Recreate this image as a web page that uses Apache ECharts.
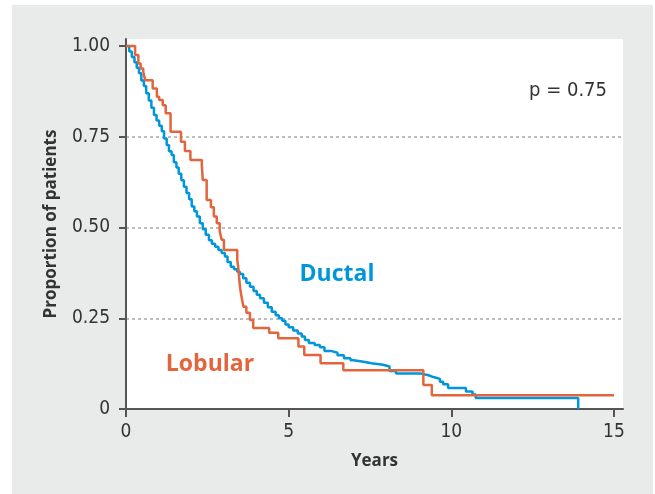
<!DOCTYPE html>
<html>
<head>
<meta charset="utf-8">
<script src="https://cdn.jsdelivr.net/npm/echarts@6/dist/echarts.min.js"></script>
<style>
  html, body { margin: 0; padding: 0; background: #fff; }
  #chart { width: 655px; height: 494px; }
</style>
</head>
<body>
<div id="chart"></div>
<script>
// Kaplan-Meier estimates (years, proportion)
const ductalTimes = [0, 0.10, 0.18, 0.26, 0.33, 0.40, 0.47, 0.55, 0.62, 0.70, 0.78, 0.86, 0.94, 1.02, 1.10,
  1.17, 1.25, 1.32, 1.40, 1.47, 1.55, 1.62, 1.70, 1.78, 1.86, 1.94, 2.02, 2.10, 2.18, 2.27, 2.36, 2.45,
  2.55, 2.64, 2.74, 2.84, 2.94, 3.04, 3.12, 3.22, 3.32, 3.42, 3.50, 3.60, 3.70, 3.81, 3.92, 4.02, 4.12,
  4.24, 4.36, 4.48, 4.60, 4.70, 4.80, 4.90, 5.00, 5.14, 5.28, 5.40, 5.50, 5.62, 5.80, 5.96, 6.10, 6.30,
  6.50, 6.70, 6.90, 7.00, 7.30, 7.55, 7.90, 8.10, 8.30, 9.05, 9.30, 9.45, 9.65, 9.75, 9.90, 10.45, 10.65,
  10.75, 13.90]
const ductalSurv = [1.0, 0.985, 0.97, 0.955, 0.94, 0.925, 0.905, 0.89, 0.87, 0.85, 0.83, 0.81, 0.795, 0.78, 0.765,
  0.745, 0.727, 0.71, 0.70, 0.68, 0.665, 0.648, 0.63, 0.612, 0.595, 0.578, 0.558, 0.545, 0.53, 0.512, 0.495, 0.48,
  0.465, 0.455, 0.447, 0.438, 0.43, 0.42, 0.405, 0.392, 0.385, 0.378, 0.372, 0.36, 0.348, 0.337, 0.325, 0.315, 0.305,
  0.293, 0.28, 0.268, 0.258, 0.25, 0.243, 0.233, 0.225, 0.216, 0.208, 0.20, 0.19, 0.182, 0.176, 0.17, 0.16, 0.155,
  0.148, 0.14, 0.134, 0.13, 0.126, 0.122, 0.117, 0.105, 0.098, 0.093, 0.088, 0.083, 0.075, 0.068, 0.058, 0.048, 0.04,
  0.03, 0]

const lobularTimes = [0, 0.28, 0.38, 0.45, 0.53, 0.59, 0.82, 0.95, 1.02, 1.13, 1.22, 1.37, 1.69, 1.81, 1.98,
  2.33, 2.36, 2.48, 2.61, 2.70, 2.79, 2.88, 2.94, 3.01, 3.42, 3.45, 3.48, 3.50, 3.53, 3.57, 3.61, 3.70, 3.81,
  3.91, 4.40, 4.68, 5.30, 5.48, 5.98, 6.68, 9.14, 9.40, 15.0]
const lobularSurv = [1.0, 0.975, 0.952, 0.938, 0.929, 0.906, 0.883, 0.86, 0.851, 0.837, 0.815, 0.764, 0.736, 0.711, 0.686,
  0.672, 0.631, 0.576, 0.556, 0.53, 0.512, 0.49, 0.466, 0.438, 0.41, 0.39, 0.36, 0.34, 0.32, 0.30, 0.282, 0.265, 0.245,
  0.223, 0.21, 0.195, 0.172, 0.149, 0.126, 0.107, 0.066, 0.038, 0.038]

const yTicks = [0, 0.25, 0.5, 0.75, 1]
const yTickLabels = ['0', '0.25', '0.50', '0.75', '1.00']
const xTicks = [0, 5, 10, 15]

const toPairs = (ts, ss) => ts.map((t, i) => [t, ss[i]])

const narrow = "'Liberation Sans Narrow', 'DejaVu Sans Condensed', 'Roboto', sans-serif"
const bold = "'Open Sans', 'Noto Sans', sans-serif"
const blue = '#0096dc'
const orange = '#e2653c'
const axisColor = '#555'

const chart = echarts.init(document.getElementById('chart'), null, { renderer: 'canvas' })

chart.setOption({
  animation: false,
  backgroundColor: '#fff',
  graphic: [
    {
      type: 'rect', z: -10, silent: true,
      shape: { x: 12, y: 5, width: 641, height: 489 },
      style: { fill: '#e9eaea' }
    },
    {
      type: 'text', z: 10,
      x: 607, y: 91,
      style: { text: 'p = 0.75', fill: '#333', font: '20px ' + narrow, align: 'right', verticalAlign: 'middle' }
    },
    {
      type: 'text', z: 10,
      x: 337, y: 274,
      style: { text: 'Ductal', fill: blue, font: 'bold 23px ' + bold, align: 'center', verticalAlign: 'middle' }
    },
    {
      type: 'text', z: 10,
      x: 210, y: 364,
      style: { text: 'Lobular', fill: orange, font: 'bold 23px ' + bold, align: 'center', verticalAlign: 'middle' }
    }
  ],
  grid: {
    left: 126, right: 32, top: 39, bottom: 85,
    show: true, backgroundColor: '#fff', borderWidth: 0
  },
  xAxis: {
    type: 'value',
    min: 0, max: 15.277, interval: 5,
    name: 'Years',
    nameLocation: 'middle',
    nameGap: 44,
    nameTextStyle: { fontFamily: bold, fontWeight: 'bold', fontSize: 17, color: '#333' },
    axisLine: { show: true, onZero: false, lineStyle: { color: axisColor, width: 2 } },
    axisTick: { show: true, length: 8, customValues: xTicks, lineStyle: { color: axisColor, width: 2 } },
    axisLabel: {
      customValues: xTicks, margin: 14,
      fontFamily: narrow, fontSize: 19, color: '#333',
      formatter: (v) => xTicks.includes(v) ? String(v) : ''
    },
    splitLine: { show: false }
  },
  yAxis: {
    type: 'value',
    min: 0, max: 1.0193, interval: 0.25,
    name: 'Proportion of patients',
    nameLocation: 'middle',
    nameGap: 66,
    nameTextStyle: { fontFamily: bold, fontWeight: 'bold', fontSize: 17, color: '#333' },
    axisLine: { show: true, onZero: false, lineStyle: { color: axisColor, width: 2 } },
    axisTick: { show: true, length: 7, customValues: yTicks, lineStyle: { color: axisColor, width: 2 } },
    axisLabel: {
      customValues: yTicks, margin: 16,
      fontFamily: narrow, fontSize: 19, color: '#333',
      formatter: (v) => {
        const i = yTicks.findIndex(t => Math.abs(t - v) < 1e-6)
        return i >= 0 ? yTickLabels[i] : ''
      }
    },
    splitLine: {
      show: true, showMinLine: false, showMaxLine: false,
      lineStyle: { color: '#a8a8a8', width: 1.5, type: [3, 3] }
    }
  },
  series: [
    {
      name: 'Ductal',
      type: 'line',
      step: 'end',
      symbol: 'none',
      lineStyle: { color: blue, width: 2.5 },
      data: toPairs(ductalTimes, ductalSurv)
    },
    {
      name: 'Lobular',
      type: 'line',
      step: 'end',
      symbol: 'none',
      lineStyle: { color: orange, width: 2.5 },
      data: toPairs(lobularTimes, lobularSurv)
    }
  ]
})
</script>
</body>
</html>
